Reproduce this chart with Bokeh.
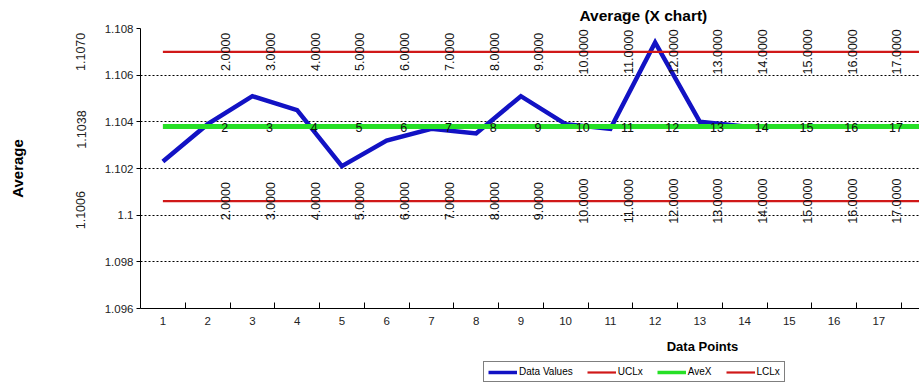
import math
from bokeh.plotting import figure
from bokeh.layouts import column
from bokeh.models import (ColumnDataSource, FixedTicker, CustomJSTickFormatter,
                          Legend, LegendItem, Range1d, LinearAxis)
from bokeh.embed import file_html
from bokeh.resources import INLINE
from bokeh.core.properties import value

# ---- data ----
data_points = [1, 2, 3, 4, 5, 6, 7, 8, 9, 10, 11, 12, 13, 14]
data_values = [1.1023, 1.1039, 1.1051, 1.1045, 1.1021, 1.1032, 1.1037, 1.1035,
               1.1051, 1.1039, 1.1037, 1.1074, 1.1040, 1.1038]
limit_points = list(range(1, 21))
ucl_value = 1.1070
ave_value = 1.1038
lcl_value = 1.1006
y_ticks = [1.096, 1.098, 1.100, 1.102, 1.104, 1.106, 1.108]
x_tick_labels = list(range(1, 21))
series_names = ["Data Values", "UCLx", "AveX", "LCLx"]

FONT = "Liberation Sans"
BLUE = "#1212C4"
RED = "#D01818"
GREEN = "#26E026"

W, H_MAIN, H_LEG = 919, 356, 33
LEFT, TOP, BOTTOM = 140, 28, 48
px_per_cat = 44.75
x_end = 0.5 + (W - LEFT) / px_per_cat
px_per_unit_y = 280 / (y_ticks[-1] - y_ticks[0])

p = figure(width=W, height=H_MAIN, x_range=Range1d(0.5, x_end),
           y_range=Range1d(y_ticks[0], y_ticks[-1]),
           output_backend="svg", toolbar_location=None,
           min_border_left=LEFT, min_border_right=0, min_border_top=TOP, min_border_bottom=BOTTOM)
p.outline_line_color = None
p.background_fill_color = "white"
p.border_fill_color = "white"

# title
p.title.text = "Averag\u0305e (X chart)"
p.title.align = "left"
p.title.offset = 439
p.title.standoff = 9
p.title.text_font = FONT
p.title.text_font_size = "15.5px"
p.title.text_font_style = "bold"
p.title.text_color = "black"

src_data = ColumnDataSource(dict(x=data_points, y=data_values))
src_lim = ColumnDataSource(dict(x=limit_points,
                                ucl=[ucl_value] * len(limit_points),
                                ave=[ave_value] * len(limit_points),
                                lcl=[lcl_value] * len(limit_points)))

p.line("x", "y", source=src_data, line_color=BLUE, line_width=4.5, line_join="miter")
p.line("x", "ucl", source=src_lim, line_color=RED, line_width=2.2)
p.line("x", "ave", source=src_lim, line_color=GREEN, line_width=5)
p.line("x", "lcl", source=src_lim, line_color=RED, line_width=2.2)

# data labels (from category 2 onward, those inside the visible area)
lab_pts = [v for v in limit_points[1:] if v < x_end - 0.5]
lab_src = ColumnDataSource(dict(x=lab_pts,
                                ucl=[ucl_value] * len(lab_pts),
                                ave=[ave_value] * len(lab_pts),
                                lcl=[lcl_value] * len(lab_pts),
                                lab4=[f"{v:.4f}" for v in lab_pts],
                                lab0=[f"{v}" for v in lab_pts]))
for col in ("ucl", "lcl"):
    p.text(x="x", y=col, text="lab4", source=lab_src, angle=math.pi / 2,
           text_align="center", text_baseline="middle", x_offset=18,
           text_font=value(FONT), text_font_size="12.5px", text_color="#111111")
p.text(x="x", y="ave", text="lab0", source=lab_src, text_align="center",
       text_baseline="middle", x_offset=17, y_offset=1,
       text_font=value(FONT), text_font_size="12.5px", text_color="#111111")

# main axes
p.xaxis.ticker = FixedTicker(ticks=x_tick_labels, minor_ticks=[v + 0.5 for v in x_tick_labels])
p.xaxis.major_tick_in = 0
p.xaxis.major_tick_out = 0
p.xaxis.minor_tick_in = 6
p.xaxis.minor_tick_out = 0
p.xaxis.minor_tick_line_color = "black"
p.xaxis.axis_line_color = "black"
p.xaxis.major_label_standoff = 8
p.xaxis.major_label_text_font = FONT
p.xaxis.major_label_text_font_size = "11.5px"
p.xaxis.major_label_text_color = "#222222"

p.yaxis.ticker = FixedTicker(ticks=y_ticks)
p.yaxis.formatter = CustomJSTickFormatter(code="return String(parseFloat(tick.toFixed(4)));")
p.yaxis.major_tick_in = 0
p.yaxis.major_tick_out = 4
p.yaxis.minor_tick_in = 0
p.yaxis.minor_tick_out = 0
p.yaxis.axis_line_color = "black"
p.yaxis.major_tick_line_color = "black"
p.yaxis.major_label_standoff = 3
p.yaxis.major_label_text_font = FONT
p.yaxis.major_label_text_font_size = "11.5px"
p.yaxis.major_label_text_color = "#222222"

# outer left axis: first-point values of the limit series, plus the "Average" title
limit_vals = [ucl_value, ave_value, lcl_value]
label_shift_px = [0, 3, 9]           # Excel nudged these labels slightly downward
pos = [v - s / px_per_unit_y for v, s in zip(limit_vals, label_shift_px)]
y2 = LinearAxis(ticker=FixedTicker(ticks=pos),
                formatter=CustomJSTickFormatter(
                    args=dict(pos=pos, labels=[f"{v:.4f}" for v in limit_vals]),
                    code="""let b = 0;
for (let i = 0; i < pos.length; i++) {
  if (Math.abs(pos[i] - tick) < Math.abs(pos[b] - tick)) b = i;
}
return labels[b];"""),
                axis_line_color=None, major_tick_line_color=None, minor_tick_line_color=None,
                major_label_orientation="vertical", major_label_standoff=10,
                major_label_text_font=FONT, major_label_text_font_size="12.5px",
                major_label_text_color="#222222",
                axis_label="Average", axis_label_standoff=48, axis_label_text_font=FONT,
                axis_label_text_font_size="15px", axis_label_text_font_style="bold",
                axis_label_text_color="black")
p.add_layout(y2, "left")

# second bottom axis holding the "Data Points" title at its reference spot
x_title_pos = 0.5 + (702 - LEFT) / px_per_cat
x2 = LinearAxis(ticker=FixedTicker(ticks=[x_title_pos]),
                formatter=CustomJSTickFormatter(code="return 'Data Points';"),
                axis_line_color=None, major_tick_line_color=None, minor_tick_line_color=None,
                major_label_standoff=5, major_label_text_font=FONT,
                major_label_text_font_size="13px", major_label_text_font_style="bold",
                major_label_text_color="black")
p.add_layout(x2, "below")

p.xgrid.visible = False
p.ygrid.grid_line_color = "black"
p.ygrid.grid_line_dash = "2 2"
p.ygrid.grid_line_width = 1

# legend strip underneath
q = figure(width=W, height=H_LEG, x_range=Range1d(0, W), y_range=Range1d(0, H_LEG),
           output_backend="svg", toolbar_location=None,
           x_axis_location=None, y_axis_location=None,
           min_border_left=0, min_border_right=0, min_border_top=0, min_border_bottom=0)
q.outline_line_color = None
q.xgrid.visible = False
q.ygrid.visible = False
q.background_fill_color = "white"
q.border_fill_color = "white"
leg_styles = [(BLUE, 3.5), (RED, 2.2), (GREEN, 3.5), (RED, 2.2)]
items = []
for name, (c, w) in zip(series_names, leg_styles):
    r = q.line(x=[-100, -99], y=[-100, -100], line_color=c, line_width=w)
    items.append(LegendItem(label=name, renderers=[r]))
legend = Legend(items=items, orientation="horizontal", location=(343, 7),
                glyph_width=29, glyph_height=10, label_standoff=2, spacing=14,
                padding=4, margin=0, label_text_font=FONT, label_text_font_size="10px",
                label_text_color="black", label_height=10,
                border_line_color="black", border_line_width=1,
                background_fill_color="white", background_fill_alpha=1)
q.add_layout(legend)

layout = column(p, q, spacing=0)
open("out.html", "w").write(file_html(layout, INLINE))
